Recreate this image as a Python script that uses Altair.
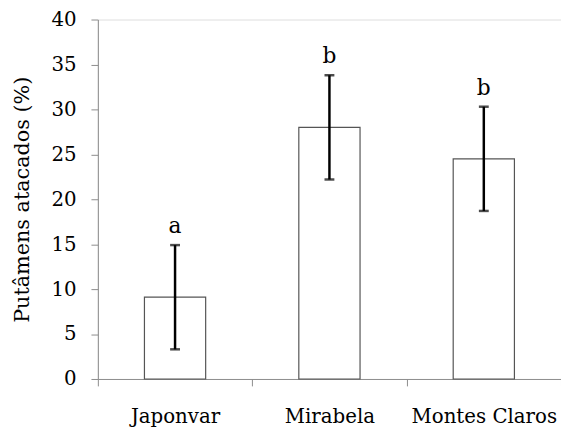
import altair as alt
import pandas as pd

sites = ["Japonvar", "Mirabela", "Montes Claros"]
means = [9.1, 28.0, 24.5]
lower = [3.3, 22.2, 18.7]
upper = [14.9, 33.8, 30.3]
letters = ["a", "b", "b"]

df = pd.DataFrame({"site": sites, "mean": means, "lo": lower, "hi": upper, "letter": letters})

FONT = "DejaVu Serif"
FS = 20

x = alt.X("site:N", sort=sites,
          scale=alt.Scale(paddingInner=0, paddingOuter=0),
          axis=alt.Axis(title=None, labelAngle=0, tickBand="extent", labelFont=FONT,
                        labelFontSize=FS, labelColor="black", labelPadding=21,
                        tickSize=7, tickColor="#8c8c8c", domainColor="#8c8c8c",
                        labelLimit=300))
y = alt.Y("mean:Q",
          scale=alt.Scale(domain=[0, 40], nice=False),
          axis=alt.Axis(title="Putâmens atacados (%)", values=list(range(0, 41, 5)),
                        labelFont=FONT, labelFontSize=FS, labelColor="black",
                        labelPadding=15, tickSize=7, tickColor="#8c8c8c",
                        domainColor="#8c8c8c", grid=False,
                        titleFont=FONT, titleFontSize=21, titleFontWeight="normal",
                        titleColor="black", titlePadding=19))

bars = alt.Chart(df).mark_bar(size=62, fill="white", stroke="#555555", strokeWidth=1.2).encode(x=x, y=y)
err = alt.Chart(df).mark_rule(color="black", strokeWidth=2.5).encode(
    x=alt.X("site:N", sort=sites), y="lo:Q", y2="hi:Q")
cap_hi = alt.Chart(df).mark_tick(color="black", thickness=2.5, size=10, orient="horizontal").encode(
    x=alt.X("site:N", sort=sites), y="hi:Q")
cap_lo = alt.Chart(df).mark_tick(color="black", thickness=2.5, size=10, orient="horizontal").encode(
    x=alt.X("site:N", sort=sites), y="lo:Q")
txt = alt.Chart(df).mark_text(font=FONT, fontSize=22, baseline="alphabetic", dy=-12, color="black").encode(
    x=alt.X("site:N", sort=sites), y="hi:Q", text="letter:N")

chart = alt.layer(bars, err, cap_hi, cap_lo, txt).properties(
    width=469, height=364,
    autosize=alt.AutoSizeParams(type="none"),
    padding={"left": 91, "top": 9, "right": 0, "bottom": 50},
).configure_view(stroke=None).configure(background="white")

chart.save("out.html", embed_options={"renderer": "svg", "actions": False})
